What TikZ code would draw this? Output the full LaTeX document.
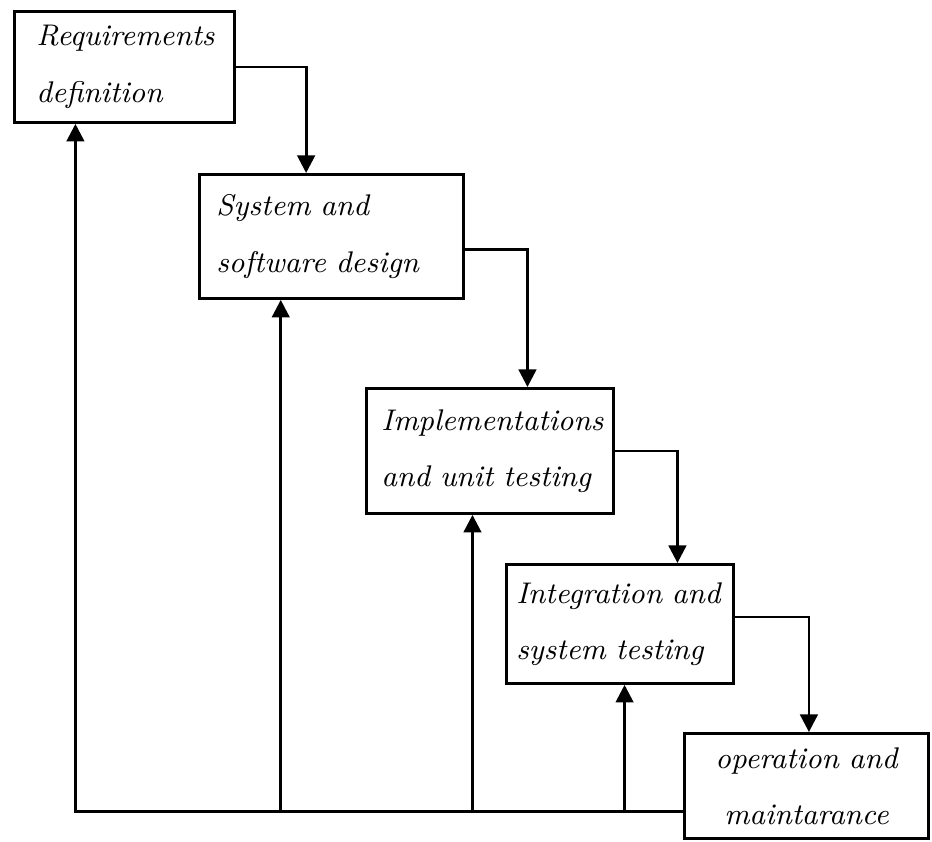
\documentclass[tikz,border=0pt]{standalone}
\usepackage{tikz}
\usetikzlibrary{arrows.meta,positioning,calc}

\tikzset{
    phase/.style={draw, thick, rectangle, anchor=north west, align=left,
        inner sep=0pt, font=\itshape\fontsize{8.5}{16}\selectfont},
    flow/.style={thick, -{Triangle[width=5pt,length=5pt]}}
}

\begin{document}
\begin{tikzpicture}[x=0.01cm, y=-0.01cm]
    \useasboundingbox (0,0) rectangle (932,842);

    % Phases
    \node[phase, minimum width=2.20cm, minimum height=1.11cm, text width=1.76cm]
        (req) at (13,10) {\mbox{Requirements}\\\mbox{definition}};
    \node[phase, minimum width=2.64cm, minimum height=1.24cm, text width=2.30cm]
        (sys) at (198,173) {\mbox{System and}\\\mbox{software design}};
    \node[phase, minimum width=2.47cm, minimum height=1.25cm, text width=2.17cm]
        (impl) at (365,387) {\mbox{Implementations}\\\mbox{and unit testing}};
    \node[phase, minimum width=2.27cm, minimum height=1.19cm, text width=2.07cm]
        (integ) at (505,563) {\mbox{Integration and}\\\mbox{system testing}};
    \node[phase, minimum width=2.44cm, minimum height=1.05cm, text width=2.20cm, align=center]
        (ops) at (683,732) {operation and\\maintarance};

    % Flow down the steps
    \draw[flow] (req.east) -| ($(sys.north west)!0.405!(sys.north east)$);
    \draw[flow] ([yshift=-0.13cm]sys.east) -| ($(impl.north west)!0.65!(impl.north east)$);
    \draw[flow] (impl.east) -| ($(integ.north west)!0.75!(integ.north east)$);
    \draw[flow] ([yshift=0.07cm]integ.east) -| ($(ops.north west)!0.51!(ops.north east)$);

    % Feedback
    \coordinate (fb) at ($(ops.south west)!0.26!(ops.north west)$);
    \draw[flow] (fb) -| ($(req.south west)!0.28!(req.south east)$);
    \draw[flow] (fb -| {$(sys.south west)!0.31!(sys.south east)$})
        -- ($(sys.south west)!0.31!(sys.south east)$);
    \draw[flow] (fb -| {$(impl.south west)!0.43!(impl.south east)$})
        -- ($(impl.south west)!0.43!(impl.south east)$);
    \draw[flow] (fb -| {$(integ.south west)!0.52!(integ.south east)$})
        -- ($(integ.south west)!0.52!(integ.south east)$);
\end{tikzpicture}
\end{document}
